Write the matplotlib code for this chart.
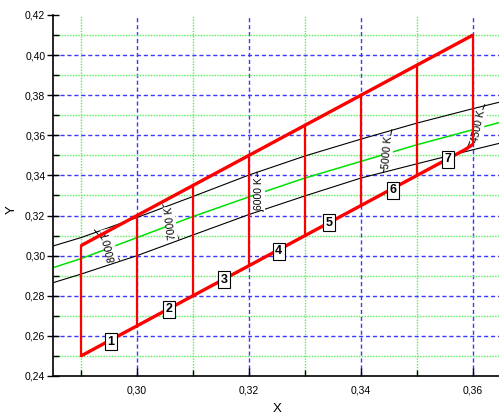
import numpy as np
import matplotlib
matplotlib.use("Agg")
import matplotlib.pyplot as plt
from matplotlib.ticker import MultipleLocator, FuncFormatter

plt.rcParams['font.family'] = ['Liberation Sans', 'DejaVu Sans']

# bin grid (red)
edge_x = [0.29, 0.30, 0.31, 0.32, 0.33, 0.34, 0.35, 0.36]
edge_top = [0.305, 0.320, 0.335, 0.350, 0.365, 0.380, 0.395, 0.410]
edge_bot = [0.250, 0.265, 0.280, 0.295, 0.310, 0.325, 0.340, 0.3555]
kink_x, kink_y = 0.3586, 0.3529

# locus and its limits
locus_x = [0.285, 0.29, 0.30, 0.31, 0.32, 0.33, 0.34, 0.35, 0.36, 0.365]
upper_y = [0.3048, 0.3090, 0.3190, 0.3295, 0.3402, 0.3497, 0.3581, 0.3661, 0.3733, 0.3767]
planck_y = [0.2940, 0.2985, 0.3090, 0.3195, 0.3293, 0.3387, 0.3470, 0.3553, 0.3628, 0.3666]
lower_y = [0.2865, 0.2908, 0.3000, 0.3103, 0.3205, 0.3298, 0.3387, 0.3458, 0.3528, 0.3562]

# isotemperature lines
cct_labels = ["8000 K", "7000 K", "6000 K", "5000 K", "4500 K"]
iso_x0 = [0.2924, 0.3046, 0.3214, 0.3455, 0.3621]
iso_y0 = [0.3128, 0.3253, 0.3416, 0.3628, 0.3753]
iso_x1 = [0.2969, 0.3075, 0.3225, 0.3440, 0.3590]
iso_y1 = [0.2978, 0.3082, 0.3220, 0.3415, 0.3538]
lab_x = [0.2951, 0.3060, 0.3218, 0.3447, 0.3610]
lab_y = [0.3050, 0.3160, 0.3310, 0.3515, 0.3645]
lab_rot = [103, 97, 90, 85, 78]

# bin numbers
bin_names = ["1", "2", "3", "4", "5", "6", "7"]
num_x = [0.2954, 0.3057, 0.3156, 0.3253, 0.3343, 0.3458, 0.3556]
num_y = [0.2571, 0.2732, 0.2879, 0.3023, 0.3165, 0.3326, 0.3480]

fig = plt.figure(figsize=(4.99, 4.18), dpi=100)
ax = fig.add_axes([0.1062, 0.1005, 0.8978, 0.8637])
ax.set_xlim(0.285, 0.365)
ax.set_ylim(0.24, 0.42)

# grid
blue = '#3a3aff'
green = '#55ee55'
for v in np.arange(0.30, 0.365, 0.02):
    ax.axvline(v, color=blue, lw=1.0, ls=(0, (3, 2)), zorder=1)
for v in np.arange(0.29, 0.365, 0.02):
    ax.axvline(v, color=green, lw=1.0, ls=(0, (1, 1)), zorder=1)
for v in np.arange(0.26, 0.415, 0.02):
    ax.axhline(v, color=blue, lw=1.0, ls=(0, (3, 2)), zorder=1)
for v in np.arange(0.25, 0.415, 0.02):
    ax.axhline(v, color=green, lw=1.0, ls=(0, (1, 1)), zorder=1)

# curves
ax.plot(locus_x, upper_y, color='black', lw=0.8, zorder=2)
ax.plot(locus_x, lower_y, color='black', lw=0.8, zorder=2)
ax.plot(locus_x, planck_y, color='#00e000', lw=1.1, zorder=2)

for i in range(len(cct_labels)):
    ax.plot([iso_x0[i], iso_x1[i]], [iso_y0[i], iso_y1[i]], color='black', lw=0.7, zorder=2)
    ax.text(lab_x[i], lab_y[i], cct_labels[i], rotation=lab_rot[i], fontsize=7.5,
            ha='center', va='center', zorder=3,
            bbox=dict(boxstyle='square,pad=0.05', fc='white', ec='none'))

# red bins
bot_x = edge_x[:-1] + [kink_x, edge_x[-1]]
bot_y = edge_bot[:-1] + [kink_y, edge_bot[-1]]
ax.plot(edge_x, edge_top, color='red', lw=2.4, zorder=5, solid_capstyle='butt')
ax.plot(bot_x, bot_y, color='red', lw=2.4, zorder=5, solid_capstyle='butt')
for xv, yt, yb in zip(edge_x, edge_top, edge_bot):
    ax.plot([xv, xv], [yb, yt], color='red', lw=1.6, zorder=5)

for name, xv, yv in zip(bin_names, num_x, num_y):
    ax.text(xv, yv, name, fontsize=9, fontweight='bold', ha='center', va='center', zorder=6,
            bbox=dict(boxstyle='square,pad=0.2', fc='white', ec='black', lw=0.8))

# axes style
for s in ['top', 'right']:
    ax.spines[s].set_visible(False)
ax.spines['left'].set_linewidth(1.2)
ax.spines['bottom'].set_linewidth(1.2)
ax.xaxis.set_major_locator(MultipleLocator(0.02))
ax.xaxis.set_minor_locator(MultipleLocator(0.01))
ax.yaxis.set_major_locator(MultipleLocator(0.02))
ax.yaxis.set_minor_locator(MultipleLocator(0.01))
fmt = FuncFormatter(lambda v, p: f"{v:.2f}".replace('.', ','))
ax.xaxis.set_major_formatter(fmt)
ax.yaxis.set_major_formatter(fmt)
ax.tick_params(axis='x', which='major', direction='in', length=6, width=1.0, labelsize=7.5, pad=7)
ax.tick_params(axis='x', which='minor', direction='in', length=4, width=1.0)
ax.tick_params(axis='y', which='major', direction='inout', length=8, width=1.0, labelsize=7.5, pad=1.5)
ax.tick_params(axis='y', which='minor', direction='in', length=4, width=1.0)

fig.text(276.7 / 499, 1 - 409 / 418, "X", fontsize=9.5, ha='center', va='center')
fig.text(12 / 499, 1 - 210 / 418, "Y", fontsize=9.5, ha='center', va='center', rotation=90)

fig.savefig("out.png", dpi=100)
